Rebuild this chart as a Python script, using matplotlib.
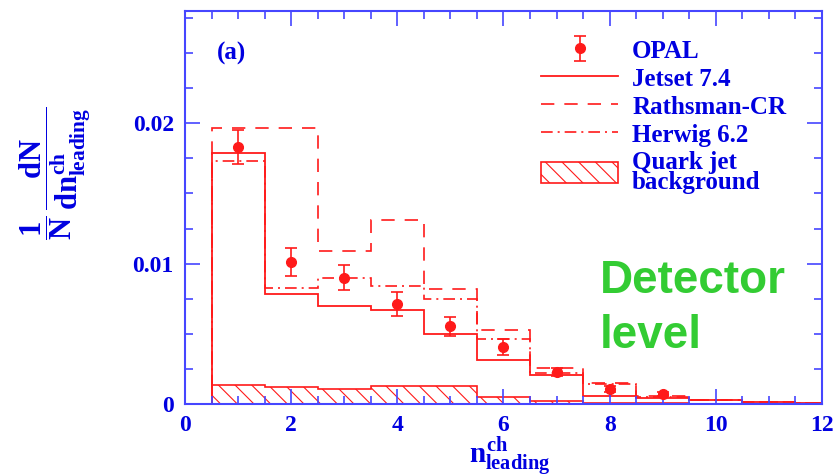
import numpy as np
import matplotlib
matplotlib.use("Agg")
import matplotlib.pyplot as plt
from matplotlib.lines import Line2D
from matplotlib.patches import Patch

plt.rcParams['font.family'] = ['Liberation Serif', 'DejaVu Serif']
plt.rcParams['mathtext.fontset'] = 'custom'
plt.rcParams['mathtext.rm'] = 'Liberation Serif:bold'
plt.rcParams['mathtext.it'] = 'Liberation Serif:bold'
plt.rcParams['mathtext.bf'] = 'Liberation Serif:bold'
plt.rcParams['hatch.linewidth'] = 0.8

# ---- data ----
edges = np.arange(-0.5, 13.0, 1.0)  # bins for n = 0 .. 12
jetset   = [0, 0.0179, 0.00785, 0.0070, 0.00667, 0.0050, 0.0031, 0.00206, 0.00059, 0.0004, 0.0003, 0.00012, 0.00005]
rathsman = [0, 0.0197, 0.0197, 0.01087, 0.0131, 0.0082, 0.0053, 0.00253, 0.00147, 0.0006, 0.0003, 0.00015, 0.00005]
herwig   = [0, 0.0173, 0.00828, 0.0090, 0.00844, 0.0075, 0.0046, 0.0022, 0.0014, 0.0005, 0.0003, 0.00012, 0.00005]
quark_bg = [0, 0.00135, 0.00123, 0.00104, 0.00128, 0.00128, 0.0005, 0.0002, 0.0001, 0.00005, 0.0, 0.0, 0.0]

opal_n   = [1, 2, 3, 4, 5, 6, 7, 8, 9]
opal_y   = [0.0183, 0.0101, 0.0090, 0.00714, 0.00553, 0.00406, 0.00229, 0.00106, 0.0007]
opal_err = [0.0012, 0.0010, 0.0009, 0.00085, 0.0007, 0.0006, 0.0003, 0.0002, 0.00015]

x_ticks = [0, 2, 4, 6, 8, 10, 12]
y_ticks = [0, 0.01, 0.02]
y_tick_labels = ['0', '0.01', '0.02']
legend_labels = ['OPAL', 'Jetset 7.4', 'Rathsman-CR', 'Herwig 6.2', 'Quark jet\nbackground']

blue = '#0000e0'
spine_blue = '#4646ff'
red = '#ff1a1a'
dash_r = (0, (8, 6))
dash_h = (0, (7, 3, 1.2, 3))

fig = plt.figure(figsize=(8.34, 4.75), dpi=100)
ax = fig.add_axes([0.2218, 0.1495, 0.9856 - 0.2218, 0.9768 - 0.1495])

ax.stairs(quark_bg, edges, fill=True, facecolor='none', edgecolor=red,
          hatch='\\\\', linewidth=1.2, baseline=0)
ax.stairs(jetset, edges, color=red, linewidth=1.3, baseline=None)
ax.stairs(rathsman, edges, color=red, linewidth=1.2, baseline=None, linestyle=dash_r)
ax.stairs(herwig, edges, color=red, linewidth=1.2, baseline=None, linestyle=dash_h)
eb = ax.errorbar(opal_n, opal_y, yerr=opal_err, fmt='o', color=red, ms=7,
                 capsize=4, elinewidth=1.2, capthick=1.2, zorder=5)

ax.set_xlim(0, 12)
ax.set_ylim(0, 0.028)
ax.set_xticks(x_ticks)
ax.set_xticklabels([str(v) for v in x_ticks])
ax.set_yticks(y_ticks)
ax.set_yticklabels(y_tick_labels)
ax.set_xticks(np.arange(0, 12.01, 0.5), minor=True)
ax.set_yticks(np.arange(0, 0.028, 0.0025), minor=True)
ax.tick_params(which='both', direction='in', top=True, right=True,
               color=spine_blue, labelcolor=blue, width=1.2)
ax.tick_params(which='major', length=11, labelsize=17, pad=8)
ax.tick_params(which='minor', length=6)
for lab in ax.get_xticklabels() + ax.get_yticklabels():
    lab.set_fontweight('bold')
for s in ax.spines.values():
    s.set_color(spine_blue)
    s.set_linewidth(1.5)

ax.text(0.6, 0.0250, '(a)', color=blue, fontsize=18, fontweight='bold',
        ha='left', va='center')

ax.text(7.82, 0.00794, 'Detector', color='#33cc33', fontsize=33,
        fontweight='bold', family=['Liberation Sans', 'DejaVu Sans'],
        ha='left', va='baseline')
ax.text(7.82, 0.00397, 'level', color='#33cc33', fontsize=33,
        fontweight='bold', family=['Liberation Sans', 'DejaVu Sans'],
        ha='left', va='baseline')

fig.text(0.066, 0.634, r'$\dfrac{1}{N}\,\dfrac{dN}{dn^{ch}_{leading}}$',
         rotation=90, color=blue, fontsize=22, ha='center', va='center')
fig.text(0.611, 0.040, r'$n^{ch}_{leading}$', color=blue, fontsize=21,
         ha='center', va='center')

handles = [
    eb,
    Line2D([], [], color=red, lw=1.3),
    Line2D([], [], color=red, lw=1.2, linestyle=dash_r),
    Line2D([], [], color=red, lw=1.2, linestyle=dash_h),
    Patch(facecolor='none', edgecolor=red, hatch='\\\\', lw=1.2),
]
leg = ax.legend(handles, legend_labels, loc='upper left', bbox_to_anchor=(0.559, 0.93),
                frameon=False, fontsize=18, handlelength=3.08, handleheight=0.9,
                labelspacing=0.16, handletextpad=0.56, borderaxespad=0, borderpad=0)
for t in leg.get_texts():
    t.set_color(blue)
    t.set_fontweight('bold')
    t.set_linespacing(0.85)

fig.savefig('out.png', dpi=100)
